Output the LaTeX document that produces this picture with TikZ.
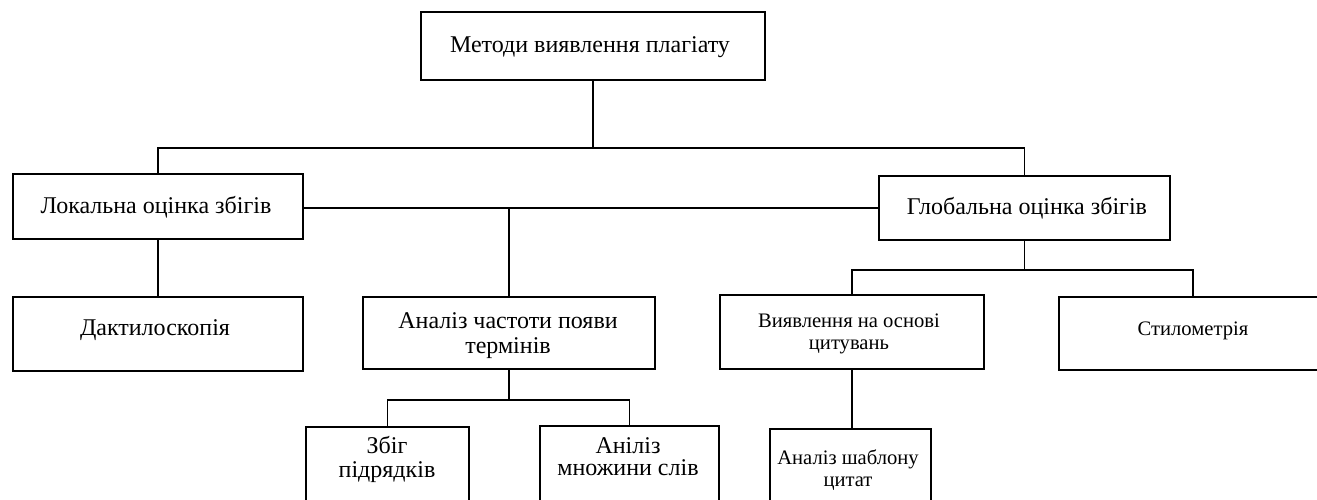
\documentclass[tikz,border=0pt]{standalone}
\usepackage{fontspec}
\setmainfont{Liberation Serif}
\usetikzlibrary{calc}

\begin{document}
\begin{tikzpicture}[x=1pt,y=-1pt,
  box/.style={draw, line width=1.8pt, inner sep=0pt, anchor=north west},
  wire/.style={line width=1.8pt},
  txt/.style={align=center, inner sep=0pt, anchor=base},
  big/.style={font=\fontsize{24}{25}\selectfont},
  small/.style={font=\fontsize{20.6}{22}\selectfont}]
\useasboundingbox (0,0) rectangle (1317,500);
\clip (0,0) rectangle (1317,500);

% boxes: top-left corner, width and height
\node[box, minimum width=344, minimum height=68] (root) at (420,11) {};
\node[box, minimum width=290, minimum height=65] (local) at (12,173) {};
\node[box, minimum width=291, minimum height=64] (glob) at (878,175) {};
\node[box, minimum width=290, minimum height=74] (dact) at (12,296) {};
\node[box, minimum width=292, minimum height=72] (freq) at (362,296) {};
\node[box, minimum width=264, minimum height=74] (cit) at (719,294) {};
\node[box, minimum width=268, minimum height=73] (styl) at (1058,296) {};
\node[box, minimum width=163, minimum height=100] (zbig) at (305,426) {};
\node[box, minimum width=179, minimum height=100] (anil) at (539,425) {};
\node[box, minimum width=161, minimum height=100] (shab) at (769,428) {};

% labels (positioned by the baseline of the last line)
\node[txt, big] (rootT) at (590,53) {Методи виявлення плагіату};
\node[txt, big] (localT) at (156,213) {Локальна оцінка збігів};
\node[txt, big] (globT) at (1027,214) {Глобальна оцінка збігів};
\node[txt, big] (dactT) at (155,335) {Дактилоскопія};
\node[txt, big] (freqT) at (508,353) {Аналіз частоти появи\\термінів};
\node[txt, small] (citT) at (849,349) {Виявлення на основі\\цитувань};
\node[txt, small] (stylT) at (1193,335) {Стилометрія};
\node[txt, font=\fontsize{24}{24}\selectfont] (zbigT) at (387,477) {Збіг\\підрядків};
\node[txt, font=\fontsize{24}{22}\selectfont] (anilT) at (628,475) {Аніліз\\множини слів};
\node[txt, small] (shabT) at (848,486) {Аналіз шаблону\\цитат};

% junction points of the tree
\coordinate (j0) at (592,148);
\coordinate (jm) at (0,208);
\coordinate (jg) at (1024,270);
\coordinate (jf) at (0,400);

\draw[wire] (root.south) -- (root.south |- j0);
\draw[wire] (local.north) |- (glob.north |- j0) -- (glob.north);
\draw[wire] (local.east |- jm) -- (glob.west |- jm);
\draw[wire] (freq.north) -- (freq.north |- jm);
\draw[wire] (local.south) -- (dact.north);
\draw[wire] (glob.south) -- (glob.south |- jg);
\draw[wire] (cit.north) |- (styl.north |- jg) -- (styl.north);
\draw[wire] (cit.south) -- (cit.south |- shab.north);
\draw[wire] (freq.south) -- (freq.south |- jf);
\draw[wire] (zbig.north) |- (anil.north |- jf) -- (anil.north);
\end{tikzpicture}
\end{document}
